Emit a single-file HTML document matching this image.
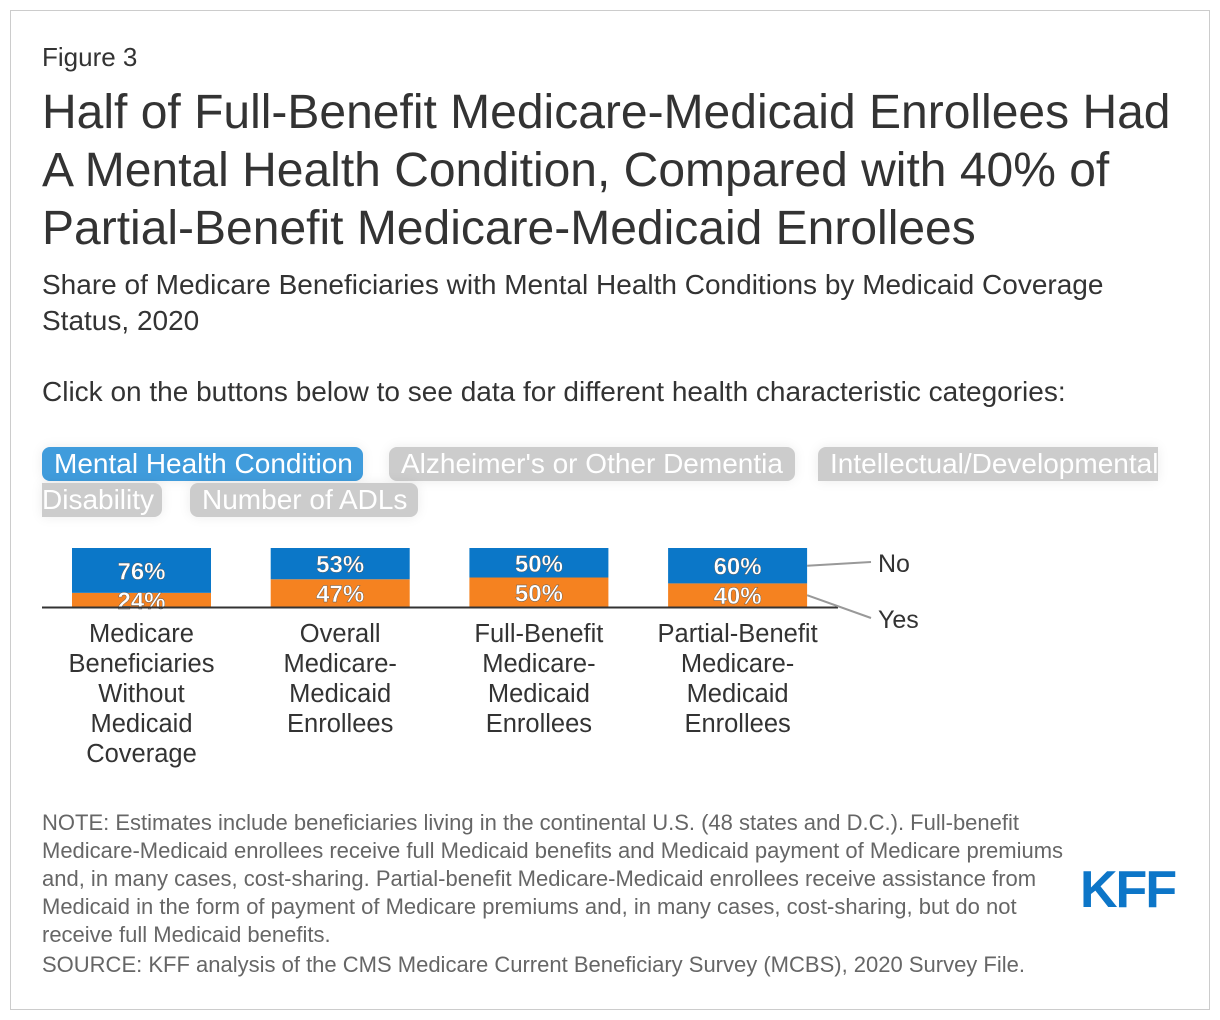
<!DOCTYPE html>
<html><head><meta charset="utf-8"><style>
body{margin:0;width:1220px;height:1020px;background:#fff;font-family:"Liberation Sans",sans-serif;position:relative;overflow:hidden}
.frame{position:absolute;left:10px;top:10px;width:1198px;height:998px;border:1px solid #ccc}
.abs{position:absolute;white-space:nowrap}
.btn{position:absolute;box-sizing:border-box;white-space:nowrap;height:34px;line-height:34px;font-size:28px;color:#fff;padding:0 12px;border-radius:8px;background:#cccccc;box-shadow:0 0 12px rgba(0,0,0,0.08);overflow:hidden}
.note{position:absolute;left:42px;font-size:22px;color:#666;line-height:28px}
</style></head><body>
<div class="frame"></div>
<div class="abs" style="left:42px;top:42px;font-size:26px;color:#333">Figure 3</div>
<div class="abs" style="left:42px;top:84px;font-size:48px;line-height:58px;color:#333">Half of Full-Benefit Medicare-Medicaid Enrollees Had<br>A Mental Health Condition, Compared with 40% of<br>Partial-Benefit Medicare-Medicaid Enrollees</div>
<div class="abs" style="left:42px;top:267px;font-size:28px;line-height:36px;color:#333">Share of Medicare Beneficiaries with Mental Health Conditions by Medicaid Coverage<br>Status, 2020</div>
<div class="abs" style="left:42px;top:376px;font-size:28px;color:#333">Click on the buttons below to see data for different health characteristic categories:</div>
<div class="btn" style="left:42px;top:447px;width:321px;background:#409cdc">Mental Health Condition</div>
<div class="btn" style="left:389px;top:447px;width:406px">Alzheimer's or Other Dementia</div>
<div class="btn" style="left:818px;top:447px;width:340px;border-radius:8px 0 0 0">Intellectual/Developmental</div>
<div class="btn" style="left:42px;top:483px;width:120px;padding-left:0;border-radius:0 8px 8px 0">Disability</div>
<div class="btn" style="left:190px;top:483px;width:228px">Number of ADLs</div>
<svg id="chart" class="abs" style="left:0;top:0" width="1220" height="800"></svg>
<div class="note" style="top:809px">NOTE: Estimates include beneficiaries living in the continental U.S. (48 states and D.C.). Full-benefit<br>Medicare-Medicaid enrollees receive full Medicaid benefits and Medicaid payment of Medicare premiums<br>and, in many cases, cost-sharing. Partial-benefit Medicare-Medicaid enrollees receive assistance from<br>Medicaid in the form of payment of Medicare premiums and, in many cases, cost-sharing, but do not<br>receive full Medicaid benefits.</div>
<div class="note" style="top:951px">SOURCE: KFF analysis of the CMS Medicare Current Beneficiary Survey (MCBS), 2020 Survey File.</div>
<div class="abs" style="left:1080px;top:860px;font-size:52px;font-weight:bold;color:#0d76c8;letter-spacing:-2px">KFF</div>
<script>
const categories=[["Medicare","Beneficiaries","Without","Medicaid","Coverage"],["Overall","Medicare-","Medicaid","Enrollees"],["Full-Benefit","Medicare-","Medicaid","Enrollees"],["Partial-Benefit","Medicare-","Medicaid","Enrollees"]];
const yesValues=[24,47,50,40];
const noValues=[76,53,50,60];
const seriesNames=["No","Yes"];
const svg=document.getElementById('chart');
const NS='http://www.w3.org/2000/svg';
const base=607,top0=548,x0=72,step=198.7,bw=139;
const y=v=>base-(base-top0)*v/100;
function mk(t,a){const e=document.createElementNS(NS,t);for(const k in a)e.setAttribute(k,a[k]);svg.appendChild(e);return e;}
categories.forEach((c,i)=>{
  const x=x0+i*step;
  const ry=mk('rect',{x:x,y:y(yesValues[i]),width:bw,height:base-y(yesValues[i]),fill:'#f58220'});
  
  
  const rn=mk('rect',{x:x,y:y(yesValues[i]+noValues[i]),width:bw,height:y(yesValues[i])-y(yesValues[i]+noValues[i]),fill:'#0b77c8'});
  
  
  const l1=mk('text',{x:x+bw/2,y:Math.min((y(yesValues[i])+base)/2+9,base+3),'text-anchor':'middle','font-size':24,'font-weight':'bold',fill:'#fff',stroke:'#555','stroke-width':0.4});
  l1.textContent=yesValues[i]+'%';
  
  
  const l2=mk('text',{x:x+bw/2,y:(y(yesValues[i])+y(yesValues[i]+noValues[i]))/2+9,'text-anchor':'middle','font-size':24,'font-weight':'bold',fill:'#fff',stroke:'#555','stroke-width':0.4});
  l2.textContent=noValues[i]+'%';
  
  
  c.forEach((line,j)=>{
    const t=mk('text',{x:x+bw/2,y:642+j*30,'text-anchor':'middle','font-size':25.5,fill:'#333'});
    t.textContent=line;
    
    
  });
});
const ax=mk('line',{x1:42,x2:838,y1:base+0.5,y2:base+0.5,stroke:'#333','stroke-width':2});


const last=categories.length-1,lx=x0+last*step+bw;
const ln=mk('line',{x1:lx,y1:(y(yesValues[last])+y(100))/2,x2:871,y2:562,stroke:'#999','stroke-width':2});


const ly=mk('line',{x1:lx,y1:(y(yesValues[last])+base)/2,x2:871,y2:618,stroke:'#999','stroke-width':2});


const tn=mk('text',{x:878,y:572,'font-size':25,fill:'#333'});tn.textContent=seriesNames[0];


const tyy=mk('text',{x:878,y:628,'font-size':25,fill:'#333'});tyy.textContent=seriesNames[1];


</script>
</body></html>
